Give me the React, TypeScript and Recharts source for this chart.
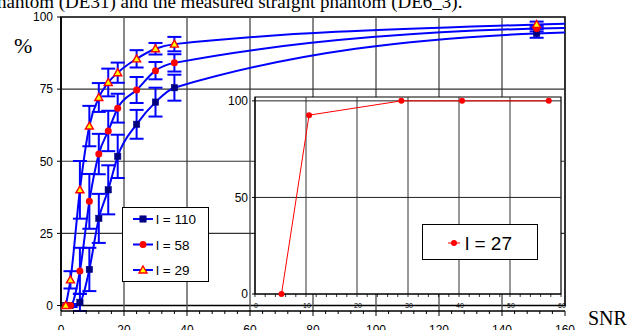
import React from "react";
import {
  ErrorBar,
  Legend,
  Line,
  LineChart,
  ReferenceArea,
  ReferenceLine,
  XAxis,
  YAxis,
} from "recharts";

// main chart: detection rate (%) vs SNR for three l values
const snrValues = [1.5, 3, 6, 9, 12, 15, 18, 24, 30, 36, 151, 160];
const l110Values = [0, 0, 1.1, 12.5, 30.2, 40.1, 51.7, 62.8, 70.5, 75.5, 94.3, 94.6];
const l110Errors = [0, 0.5, 3, 7.5, 8.5, 8.5, 7.5, 5, 5, 4.5, 1.5, 0];
const l58Values = [0, 0, 12.0, 36.1, 52.5, 60.5, 68.4, 74.7, 81.4, 84.1, 96.0, 96.2];
const l58Errors = [0, 0.5, 8, 9.5, 7, 7, 5, 4.5, 3, 3, 1, 0];
const l29Values = [0, 8.9, 40.1, 62.2, 72.1, 77.3, 80.7, 85.5, 89.0, 90.6, 97.4, 97.7];
const l29Errors = [0, 3, 10, 7, 5, 4.8, 3.5, 3, 2, 2.5, 1, 0];
const seriesNames = ["l = 110", "l = 58", "l = 29"];

const mainXTicks = [0, 4, 8, 12, 16, 20, 24, 28, 32, 36, 40, 44, 48, 52, 56, 60, 64, 68, 72, 76, 80, 84, 88, 92, 96, 100, 104, 108, 112, 116, 120, 124, 128, 132, 136, 140, 144, 148, 152, 156, 160];
const mainYTicks = [0, 25, 50, 75, 100];
const mainGridX = [20, 40, 60, 80, 100, 120, 140];
const mainGridY = [25, 50, 75];

// inset chart: l = 27
const insetSnr = [5.2, 10.6, 28.7, 40.6, 57.6];
const insetValues = [0, 92.6, 100, 100, 100];
const insetName = "l = 27";
const insetXTicks = [0, 2, 4, 6, 8, 10, 12, 14, 16, 18, 20, 22, 24, 26, 28, 30, 32, 34, 36, 38, 40, 42, 44, 46, 48, 50, 52, 54, 56, 58, 60];
const insetYTicks = [0, 50, 100];
const insetGridX = [10, 20, 30, 40, 50];
const insetGridY = [50, 100];

const titleText = "hantom (DE31) and the measured straight phantom (DE6_3).";

const SANS = "'Liberation Sans', Arial, Helvetica, sans-serif";
const SERIF = "'Liberation Serif', 'Times New Roman', serif";
const BLUE = "#0000ff";

const build = (vals: number[], errs: number[]) =>
  snrValues.map((s, i) => ({ snr: s, value: vals[i], err: errs[i] }));

const l110Data = build(l110Values, l110Errors);
const l58Data = build(l58Values, l58Errors);
const l29Data = build(l29Values, l29Errors);
const insetData = insetSnr.map((s, i) => ({ snr: s, value: insetValues[i] }));

const Square = ({ cx, cy }: { cx: number; cy: number }) => (
  <rect x={cx - 3.2} y={cy - 3.2} width={6.4} height={6.4} fill="#000080" stroke="#00008b" strokeWidth={0.5} />
);
const Dot = ({ cx, cy }: { cx: number; cy: number }) => (
  <circle cx={cx} cy={cy} r={3.5} fill="#ff0000" />
);
const Tri = ({ cx, cy }: { cx: number; cy: number }) => (
  <polygon
    points={`${cx},${cy - 4} ${cx + 4},${cy + 3} ${cx - 4},${cy + 3}`}
    fill="#ffff00"
    stroke="#ff0000"
    strokeWidth={1.4}
  />
);
const markers = [Square, Dot, Tri];

const makeDot = (Shape: typeof Square) => (p: any) => {
  if (p.payload.snr >= 160) return <g key={`e-${p.index}`} />;
  return (
    <g key={`d-${p.index}`}>
      <Shape cx={p.cx} cy={p.cy} />
    </g>
  );
};

const MainXTick = (props: any) => {
  const { x, y, payload } = props;
  const major = payload.value % 20 === 0;
  return (
    <g>
      <line x1={x} x2={x} y1={y} y2={y + (major ? 5 : 3)} stroke="#000" strokeWidth={1} />
      {major && (
        <text x={x} y={y + 22.5} textAnchor="middle" fontSize={12} fontFamily={SANS} fill="#000">
          {payload.value}
        </text>
      )}
    </g>
  );
};

const InsetXTick = (props: any) => {
  const { x, y, payload } = props;
  const major = payload.value % 10 === 0;
  return (
    <g>
      <line x1={x} x2={x} y1={y} y2={y + 3} stroke="#000" strokeWidth={0.8} />
      {major && (
        <text x={x + 1} y={y + 13.5} textAnchor="middle" fontSize={7} fontFamily={SANS} fill="#000">
          {payload.value}
        </text>
      )}
    </g>
  );
};

const MainLegend = () => (
  <svg width={87} height={75}>
    <rect x={0.5} y={0.5} width={86} height={74} fill="#fff" stroke="#000" strokeWidth={1} />
    {seriesNames.map((name, i) => {
      const cy = 12 + i * 25.5;
      const M = markers[i];
      return (
        <g key={name}>
          <line x1={11} x2={31} y1={cy} y2={cy} stroke={BLUE} strokeWidth={2} />
          <M cx={21} cy={cy} />
          <text x={34} y={cy + 5} fontSize={13.5} fontFamily={SANS} fill="#000">
            {name}
          </text>
        </g>
      );
    })}
  </svg>
);

const InsetLegend = () => (
  <svg width={116} height={36}>
    <rect x={0.5} y={0.5} width={115} height={35} fill="#fff" stroke="#000" strokeWidth={1} />
    <line x1={26} x2={38} y1={19} y2={19} stroke="#ff0000" strokeWidth={1} />
    <circle cx={32} cy={19} r={3} fill="#ff0000" />
    <text x={43} y={26} fontSize={19} fontFamily={SANS} fill="#000">
      {insetName}
    </text>
  </svg>
);

export default function App() {
  return (
    <div style={{ position: "absolute", left: 0, top: 0, width: 643, height: 330, background: "#fff", overflow: "hidden" }}>
      <div style={{ position: "absolute", left: 0, top: 0 }}>
        <LineChart width={643} height={330} margin={{ top: 17, right: 78, bottom: 0, left: 0 }}>
          <XAxis
            dataKey="snr"
            type="number"
            domain={[0, 160]}
            ticks={mainXTicks}
            interval={0}
            height={19}
            tickSize={0}
            tickMargin={0}
            tick={<MainXTick />}
            axisLine={{ stroke: "#000", strokeWidth: 1.5 }}
            allowDataOverflow
          />
          <YAxis
            type="number"
            domain={[0, 100]}
            ticks={mainYTicks}
            width={61}
            tickSize={4}
            tickMargin={4}
            tick={{ fontSize: 12, fontFamily: SANS, fill: "#000" }}
            tickLine={{ stroke: "#000" }}
            axisLine={{ stroke: "#000", strokeWidth: 1.5 }}
          />
          {mainGridX.map((v) => (
            <ReferenceLine key={`gx${v}`} x={v} stroke="#555" strokeWidth={1.4} />
          ))}
          {mainGridY.map((v) => (
            <ReferenceLine key={`gy${v}`} y={v} stroke="#333" strokeWidth={1.2} />
          ))}
          <ReferenceArea x1={0} x2={160} y1={0} y2={100} fill="none" stroke="#000" strokeWidth={1.6} />
          {[l110Data, l58Data, l29Data].map((d, i) => (
            <Line
              key={seriesNames[i]}
              data={d}
              type="monotone"
              dataKey="value"
              name={seriesNames[i]}
              stroke={BLUE}
              strokeWidth={2}
              dot={makeDot(markers[i])}
              activeDot={false}
              isAnimationActive={false}
            >
              <ErrorBar dataKey="err" direction="y" width={7} stroke={BLUE} strokeWidth={2} />
            </Line>
          ))}
          <Legend
            layout="vertical"
            align="center"
            verticalAlign="middle"
            content={<MainLegend />}
            wrapperStyle={{ position: "absolute", left: 122, top: 207, width: 87, height: 75 }}
          />
        </LineChart>
      </div>

      <div style={{ position: "absolute", left: 225, top: 90 }}>
        <LineChart width={345} height={222} margin={{ top: 7, right: 9, bottom: 0, left: 0 }}>
          <XAxis
            dataKey="snr"
            type="number"
            domain={[0, 60]}
            ticks={insetXTicks}
            interval={0}
            height={18}
            tickSize={0}
            tickMargin={0}
            tick={<InsetXTick />}
            axisLine={{ stroke: "#000", strokeWidth: 1 }}
          />
          <YAxis
            type="number"
            domain={[0, 102]}
            ticks={insetYTicks}
            width={30}
            tickSize={3}
            tickMargin={4}
            tick={{ fontSize: 12, fontFamily: SANS, fill: "#000" }}
            tickLine={{ stroke: "#000" }}
            axisLine={{ stroke: "#000", strokeWidth: 1 }}
          />
          <ReferenceArea x1={0} x2={60} y1={0} y2={102} fill="#fff" fillOpacity={1} stroke="#000" strokeWidth={1.2} />
          {insetGridX.map((v) => (
            <ReferenceLine key={`ix${v}`} x={v} stroke="#333" strokeWidth={1} />
          ))}
          {insetGridY.map((v) => (
            <ReferenceLine key={`iy${v}`} y={v} stroke="#222" strokeWidth={1} />
          ))}
          <Line
            data={insetData}
            dataKey="value"
            name={insetName}
            stroke="#ff0000"
            strokeWidth={1}
            dot={{ r: 3, fill: "#ff0000", stroke: "#ff0000", strokeWidth: 0 }}
            activeDot={false}
            isAnimationActive={false}
          />
          <Legend
            layout="vertical"
            align="center"
            verticalAlign="middle"
            content={<InsetLegend />}
            wrapperStyle={{ position: "absolute", left: 197, top: 134, width: 116, height: 36 }}
          />
        </LineChart>
      </div>

      <svg width={643} height={330} style={{ position: "absolute", left: 0, top: 0, pointerEvents: "none" }}>
        <text x={-3} y={8} fontSize={19} fontFamily={SERIF} fill="#000">
          {titleText}
        </text>
        <text x={14} y={53} fontSize={22} fontFamily={SERIF} fill="#000">
          %
        </text>
        <text x={588} y={325} fontSize={20} fontFamily={SERIF} fill="#000">
          SNR
        </text>
      </svg>
    </div>
  );
}
